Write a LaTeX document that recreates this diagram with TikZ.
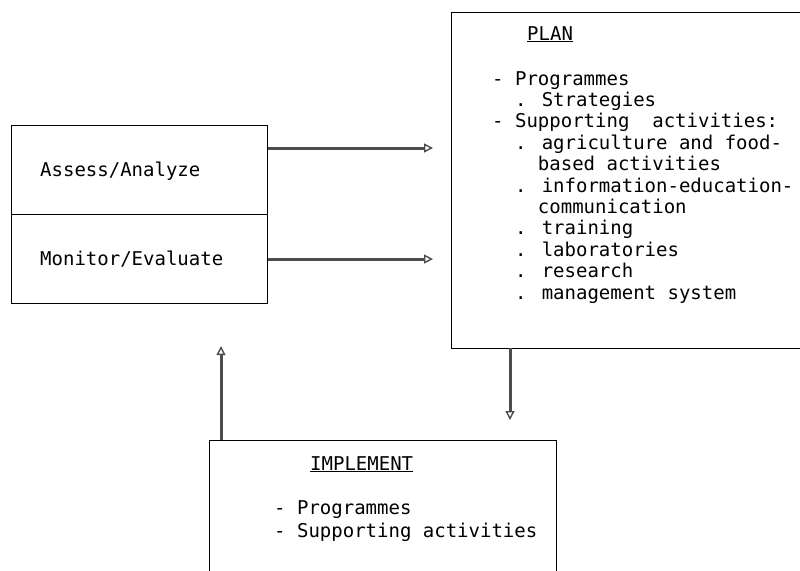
\documentclass[tikz,border=0pt]{standalone}
\usepackage{fontspec}
\newfontfamily\mono{DejaVu Sans Mono}
\usetikzlibrary{arrows.meta,calc}
\begin{document}
\begin{tikzpicture}[x=1pt,y=-1pt,
  box/.style={draw=black,line width=1.1pt,rectangle,inner sep=0pt,anchor=north west},
  label/.style={font=\mono\fontsize{19}{21.4}\selectfont,inner sep=0pt,anchor=base west,align=left},
  flow/.style={draw=black!70,line width=3pt,-{Triangle[open,length=9pt,width=9pt,line width=1.4pt]}}]
\useasboundingbox (0,0) rectangle (800,570);

% Left box, split into two parts
\node[box,minimum width=256pt,minimum height=89pt] (assess) at (11,125) {};
\node[box,minimum width=256pt,minimum height=89pt] (monitor) at (11,214) {};
\node[label] (assesstext) at (40,176) {Assess/Analyze};
\node[label] (monitortext) at (40,265) {Monitor/Evaluate};

% Planning box (runs past the right edge)
\node[box,minimum width=360pt,minimum height=336pt] (plan) at (451,12) {};
\node[label] (plantitle) at (527,40) {\underline{PLAN}};
% multi-line text is placed by the baseline of its last line
\node[label] (planlist) at (492,299) {%
- Programmes\\
\phantom{--}. Strategies\\
- Supporting\ \ activities:\\
\phantom{--}. agriculture and food-\\
\phantom{----}based activities\\
\phantom{--}. information-education-\\
\phantom{----}communication\\
\phantom{--}. training\\
\phantom{--}. laboratories\\
\phantom{--}. research\\
\phantom{--}. management system};

% Implementation box (runs past the bottom edge)
\node[box,minimum width=347pt,minimum height=150pt] (impl) at (209,440) {};
\node[label] (impltitle) at (310,470) {\underline{IMPLEMENT}};
\node[label,font=\mono\fontsize{19}{23}\selectfont] (impllist) at (274,537) {%
- Programmes\\
- Supporting activities};

% Connectors
\coordinate (a1) at ($(assess.north east)+(0,23)$);
\draw[flow,shorten >=18pt] (a1) -- (a1 -| plan.west);
\draw[flow,shorten >=18pt] (monitor.east) -- (monitor.east -| plan.west);
\coordinate (p1) at (510,348);
\draw[flow,shorten >=20pt] (p1) -- (p1 |- impl.north);
\coordinate (i1) at (221,440);
\draw[flow,shorten >=42pt] (i1) -- (i1 |- monitor.south);
\end{tikzpicture}
\end{document}
